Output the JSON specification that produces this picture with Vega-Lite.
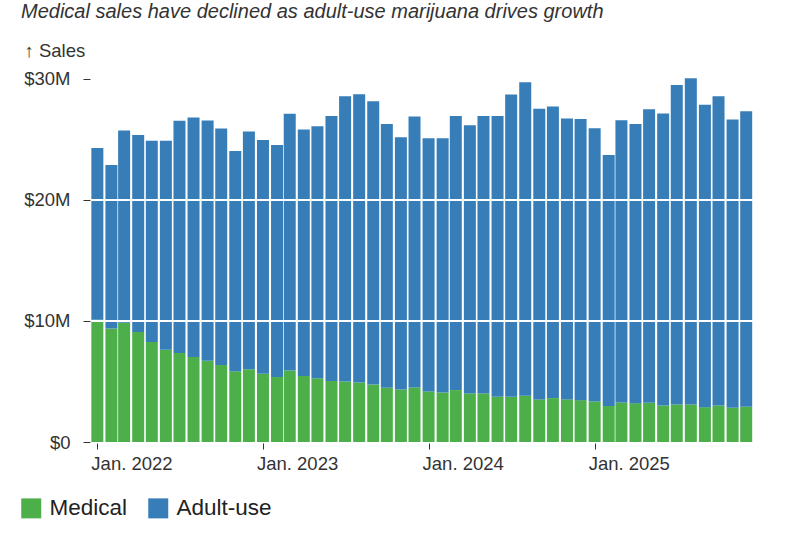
{
  "$schema": "https://vega.github.io/schema/vega-lite/v6.json",
  "width": 662,
  "height": 364,
  "autosize": {"type": "none"},
  "padding": {"left": 91, "top": 78, "right": 47, "bottom": 91},
  "background": "white",
  "config": {
    "view": {"stroke": null},
    "font": "Liberation Sans"
  },
  "title": {
    "text": "Medical sales have declined as adult-use marijuana drives growth",
    "anchor": "start",
    "frame": "group",
    "font": "Liberation Sans",
    "fontStyle": "italic",
    "fontWeight": "normal",
    "fontSize": 20,
    "color": "#333333",
    "dx": -70,
    "offset": 19
  },
  "datasets": {
    "grid": [{"v": 10}, {"v": 20}],
    "sales": [
      {"date": "2022-01-01", "type": "Medical", "sales": 10.10}, {"date": "2022-01-01", "type": "Adult-use", "sales": 14.19},
      {"date": "2022-02-01", "type": "Medical", "sales": 9.37}, {"date": "2022-02-01", "type": "Adult-use", "sales": 13.52},
      {"date": "2022-03-01", "type": "Medical", "sales": 9.86}, {"date": "2022-03-01", "type": "Adult-use", "sales": 15.88},
      {"date": "2022-04-01", "type": "Medical", "sales": 9.09}, {"date": "2022-04-01", "type": "Adult-use", "sales": 16.29},
      {"date": "2022-05-01", "type": "Medical", "sales": 8.26}, {"date": "2022-05-01", "type": "Adult-use", "sales": 16.63},
      {"date": "2022-06-01", "type": "Medical", "sales": 7.63}, {"date": "2022-06-01", "type": "Adult-use", "sales": 17.26},
      {"date": "2022-07-01", "type": "Medical", "sales": 7.36}, {"date": "2022-07-01", "type": "Adult-use", "sales": 19.18},
      {"date": "2022-08-01", "type": "Medical", "sales": 7.02}, {"date": "2022-08-01", "type": "Adult-use", "sales": 19.79},
      {"date": "2022-09-01", "type": "Medical", "sales": 6.72}, {"date": "2022-09-01", "type": "Adult-use", "sales": 19.85},
      {"date": "2022-10-01", "type": "Medical", "sales": 6.36}, {"date": "2022-10-01", "type": "Adult-use", "sales": 19.55},
      {"date": "2022-11-01", "type": "Medical", "sales": 5.84}, {"date": "2022-11-01", "type": "Adult-use", "sales": 18.20},
      {"date": "2022-12-01", "type": "Medical", "sales": 6.01}, {"date": "2022-12-01", "type": "Adult-use", "sales": 19.65},
      {"date": "2023-01-01", "type": "Medical", "sales": 5.65}, {"date": "2023-01-01", "type": "Adult-use", "sales": 19.30},
      {"date": "2023-02-01", "type": "Medical", "sales": 5.37}, {"date": "2023-02-01", "type": "Adult-use", "sales": 19.17},
      {"date": "2023-03-01", "type": "Medical", "sales": 5.90}, {"date": "2023-03-01", "type": "Adult-use", "sales": 21.22},
      {"date": "2023-04-01", "type": "Medical", "sales": 5.45}, {"date": "2023-04-01", "type": "Adult-use", "sales": 20.38},
      {"date": "2023-05-01", "type": "Medical", "sales": 5.27}, {"date": "2023-05-01", "type": "Adult-use", "sales": 20.83},
      {"date": "2023-06-01", "type": "Medical", "sales": 5.05}, {"date": "2023-06-01", "type": "Adult-use", "sales": 21.90},
      {"date": "2023-07-01", "type": "Medical", "sales": 5.00}, {"date": "2023-07-01", "type": "Adult-use", "sales": 23.57},
      {"date": "2023-08-01", "type": "Medical", "sales": 4.92}, {"date": "2023-08-01", "type": "Adult-use", "sales": 23.82},
      {"date": "2023-09-01", "type": "Medical", "sales": 4.75}, {"date": "2023-09-01", "type": "Adult-use", "sales": 23.41},
      {"date": "2023-10-01", "type": "Medical", "sales": 4.48}, {"date": "2023-10-01", "type": "Adult-use", "sales": 21.79},
      {"date": "2023-11-01", "type": "Medical", "sales": 4.34}, {"date": "2023-11-01", "type": "Adult-use", "sales": 20.85},
      {"date": "2023-12-01", "type": "Medical", "sales": 4.51}, {"date": "2023-12-01", "type": "Adult-use", "sales": 22.39},
      {"date": "2024-01-01", "type": "Medical", "sales": 4.18}, {"date": "2024-01-01", "type": "Adult-use", "sales": 20.93},
      {"date": "2024-02-01", "type": "Medical", "sales": 4.09}, {"date": "2024-02-01", "type": "Adult-use", "sales": 21.02},
      {"date": "2024-03-01", "type": "Medical", "sales": 4.29}, {"date": "2024-03-01", "type": "Adult-use", "sales": 22.66},
      {"date": "2024-04-01", "type": "Medical", "sales": 4.01}, {"date": "2024-04-01", "type": "Adult-use", "sales": 22.17},
      {"date": "2024-05-01", "type": "Medical", "sales": 4.01}, {"date": "2024-05-01", "type": "Adult-use", "sales": 22.94},
      {"date": "2024-06-01", "type": "Medical", "sales": 3.74}, {"date": "2024-06-01", "type": "Adult-use", "sales": 23.21},
      {"date": "2024-07-01", "type": "Medical", "sales": 3.74}, {"date": "2024-07-01", "type": "Adult-use", "sales": 24.97},
      {"date": "2024-08-01", "type": "Medical", "sales": 3.83}, {"date": "2024-08-01", "type": "Adult-use", "sales": 25.90},
      {"date": "2024-09-01", "type": "Medical", "sales": 3.52}, {"date": "2024-09-01", "type": "Adult-use", "sales": 24.01},
      {"date": "2024-10-01", "type": "Medical", "sales": 3.63}, {"date": "2024-10-01", "type": "Adult-use", "sales": 24.09},
      {"date": "2024-11-01", "type": "Medical", "sales": 3.52}, {"date": "2024-11-01", "type": "Adult-use", "sales": 23.21},
      {"date": "2024-12-01", "type": "Medical", "sales": 3.46}, {"date": "2024-12-01", "type": "Adult-use", "sales": 23.24},
      {"date": "2025-01-01", "type": "Medical", "sales": 3.35}, {"date": "2025-01-01", "type": "Adult-use", "sales": 22.58},
      {"date": "2025-02-01", "type": "Medical", "sales": 2.97}, {"date": "2025-02-01", "type": "Adult-use", "sales": 20.74},
      {"date": "2025-03-01", "type": "Medical", "sales": 3.27}, {"date": "2025-03-01", "type": "Adult-use", "sales": 23.32},
      {"date": "2025-04-01", "type": "Medical", "sales": 3.21}, {"date": "2025-04-01", "type": "Adult-use", "sales": 23.06},
      {"date": "2025-05-01", "type": "Medical", "sales": 3.24}, {"date": "2025-05-01", "type": "Adult-use", "sales": 24.26},
      {"date": "2025-06-01", "type": "Medical", "sales": 3.02}, {"date": "2025-06-01", "type": "Adult-use", "sales": 24.12},
      {"date": "2025-07-01", "type": "Medical", "sales": 3.10}, {"date": "2025-07-01", "type": "Adult-use", "sales": 26.41},
      {"date": "2025-08-01", "type": "Medical", "sales": 3.10}, {"date": "2025-08-01", "type": "Adult-use", "sales": 26.96},
      {"date": "2025-09-01", "type": "Medical", "sales": 2.88}, {"date": "2025-09-01", "type": "Adult-use", "sales": 24.98},
      {"date": "2025-10-01", "type": "Medical", "sales": 3.02}, {"date": "2025-10-01", "type": "Adult-use", "sales": 25.55},
      {"date": "2025-11-01", "type": "Medical", "sales": 2.83}, {"date": "2025-11-01", "type": "Adult-use", "sales": 23.82},
      {"date": "2025-12-01", "type": "Medical", "sales": 2.91}, {"date": "2025-12-01", "type": "Adult-use", "sales": 24.43}
    ]
  },
  "layer": [
    {
      "data": {"name": "sales"},
      "mark": {"type": "bar", "size": 12, "stroke": null},
      "encoding": {
        "x": {
          "field": "date",
          "type": "temporal",
          "scale": {
            "type": "utc",
            "padding": 0,
            "nice": false,
            "domain": [
              {"year": 2021, "month": 12, "date": 18, "utc": true},
              {"year": 2025, "month": 12, "date": 16, "utc": true}
            ]
          },
          "axis": {
            "title": null,
            "values": [
              {"year": 2022, "month": 1, "date": 1, "utc": true},
              {"year": 2023, "month": 1, "date": 1, "utc": true},
              {"year": 2024, "month": 1, "date": 1, "utc": true},
              {"year": 2025, "month": 1, "date": 1, "utc": true}
            ],
            "labelExpr": "utcFormat(datum.value, '%b. %Y')",
            "labelAlign": "left",
            "labelOffset": -6.5,
            "domain": false,
            "grid": false,
            "offset": 1,
            "tickSize": 6,
            "tickColor": "#333333",
            "labelFont": "Liberation Sans",
            "labelFontSize": 18.5,
            "labelColor": "#333333",
            "labelPadding": 5
          }
        },
        "y": {
          "field": "sales",
          "type": "quantitative",
          "stack": "zero",
          "scale": {"domain": [0, 30.08], "nice": false, "zero": true},
          "axis": {
            "title": "↑ Sales",
            "titleAngle": 0,
            "titleAlign": "left",
            "titleBaseline": "alphabetic",
            "titleX": -66,
            "titleY": -22,
            "titleFont": "Liberation Sans, DejaVu Sans, sans-serif",
            "titleFontSize": 18.5,
            "titleFontWeight": "normal",
            "titleColor": "#333333",
            "values": [0, 10, 20, 30],
            "labelExpr": "datum.value == 0 ? '$0' : '$' + datum.value + 'M'",
            "domain": false,
            "grid": false,
            "offset": 1,
            "tickSize": 7,
            "tickColor": "#333333",
            "labelFont": "Liberation Sans",
            "labelFontSize": 18.5,
            "labelColor": "#333333",
            "labelPadding": 13
          }
        },
        "color": {
          "field": "type",
          "type": "nominal",
          "scale": {"domain": ["Medical", "Adult-use"], "range": ["#4daf4a", "#377eb8"]},
          "legend": {
            "title": null,
            "orient": "none",
            "direction": "horizontal",
            "legendX": -71,
            "legendY": 419,
            "symbolType": "square",
            "symbolSize": 400,
            "symbolStrokeWidth": 0,
            "symbolOpacity": 1,
            "labelFont": "Liberation Sans",
            "labelFontSize": 22.5,
            "labelColor": "#222222",
            "labelOffset": 7,
            "columnPadding": 19
          }
        },
        "order": {"field": "type", "sort": "descending"}
      }
    },
    {
      "data": {"name": "grid"},
      "mark": {"type": "rule", "color": "white", "strokeWidth": 2},
      "encoding": {
        "y": {"field": "v", "type": "quantitative"}
      }
    }
  ]
}
